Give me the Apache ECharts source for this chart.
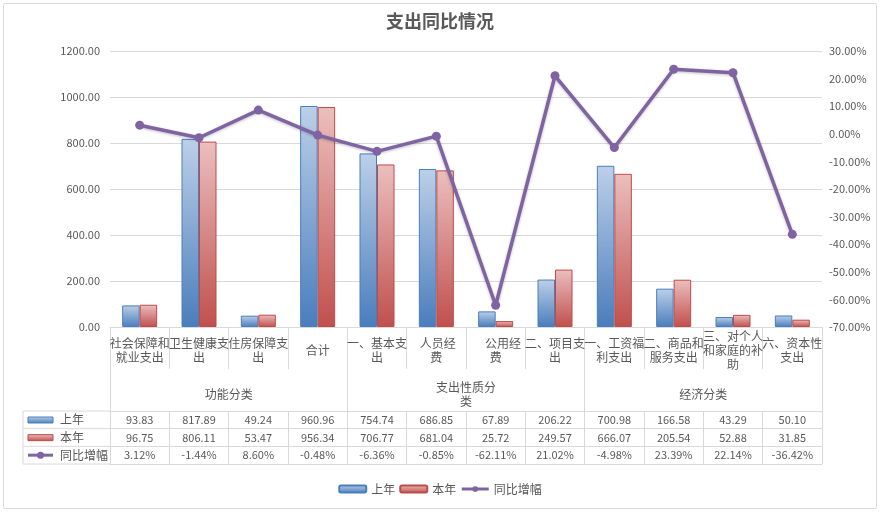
<!DOCTYPE html>
<html>
<head>
<meta charset="utf-8">
<script src="https://cdn.jsdelivr.net/npm/echarts@6/dist/echarts.min.js"></script>
<style>
  html, body { margin: 0; padding: 0; background: #fff; }
  #chart { width: 880px; height: 512px; }
</style>
</head>
<body>
<div id="chart"></div>
<script>
const categories = [
  '社会保障和\n就业支出', '卫生健康支\n出', '住房保障支\n出', '合计',
  '一、基本支\n出', ' 人员经\n费', '\u3000 公用经\n费', '二、项目支\n出',
  '一、工资福\n利支出', '二、商品和\n服务支出', '三、对个人\n和家庭的补\n助', '六、资本性\n支出'
]
const groups = ['功能分类', '支出性质分\n类', '经济分类']
const lastYear = [93.83, 817.89, 49.24, 960.96, 754.74, 686.85, 67.89, 206.22, 700.98, 166.58, 43.29, 50.10]
const thisYear = [96.75, 806.11, 53.47, 956.34, 706.77, 681.04, 25.72, 249.57, 666.07, 205.54, 52.88, 31.85]
const growth = [3.12, -1.44, 8.60, -0.48, -6.36, -0.85, -62.11, 21.02, -4.98, 23.39, 22.14, -36.42]
const seriesNames = ['上年', '本年', '同比增幅']

const FONT = 'Noto Sans CJK SC'
const TEXT = '#595959'
const BORDER = '#d9d9d9'
const PURPLE = '#7f63a2'

const blueFill = new echarts.graphic.LinearGradient(0, 0, 0, 1, [
  { offset: 0, color: '#bcd0e8' },
  { offset: 1, color: '#4a7dbd' }
])
const redFill = new echarts.graphic.LinearGradient(0, 0, 0, 1, [
  { offset: 0, color: '#ebbfbe' },
  { offset: 1, color: '#c0504d' }
])

// table geometry (below the plot)
const catH = 42
const groupH = 42
const rowH = 17.67
const tableTop = catH + groupH

const rowAxis = (data, offset, showLabel) => ({
  type: 'category',
  position: 'bottom',
  offset: offset,
  data: data,
  axisLine: { show: true, onZero: false, lineStyle: { color: BORDER } },
  axisTick: { show: showLabel, length: rowH, interval: 0, lineStyle: { color: BORDER } },
  axisLabel: {
    show: showLabel, interval: 0, margin: rowH / 2, verticalAlign: 'middle',
    color: TEXT, fontSize: 11, fontFamily: FONT
  },
  splitLine: { show: false }
})

const chart = echarts.init(document.getElementById('chart'))

const rowTop = 327 + tableTop
const rowLabels = [
  { type: 'rect', shape: { x: 28, y: rowTop + 6, width: 25, height: 6 },
    style: { fill: blueFill, stroke: '#4a7ebb', lineWidth: 1 } },
  { type: 'rect', shape: { x: 28, y: rowTop + rowH + 6, width: 25, height: 6 },
    style: { fill: redFill, stroke: '#be4b48', lineWidth: 1 } },
  { type: 'line', shape: { x1: 28, y1: rowTop + rowH * 2.5, x2: 53, y2: rowTop + rowH * 2.5 },
    style: { stroke: PURPLE, lineWidth: 3 } },
  { type: 'circle', shape: { cx: 40.5, cy: rowTop + rowH * 2.5, r: 3.5 },
    style: { fill: PURPLE } }
]
seriesNames.forEach((name, i) => {
  rowLabels.push({
    type: 'text', x: 60, y: rowTop + rowH * (i + 0.5),
    style: { text: name, fill: TEXT, font: '12px "' + FONT + '"', verticalAlign: 'middle' }
  })
})
for (let i = 0; i <= 3; i++) {
  rowLabels.push({
    type: 'line', shape: { x1: 23, y1: rowTop + rowH * i, x2: 110, y2: rowTop + rowH * i },
    style: { stroke: BORDER, lineWidth: 1 }
  })
}
rowLabels.push({
  type: 'line', shape: { x1: 23, y1: rowTop, x2: 23, y2: rowTop + rowH * 3 },
  style: { stroke: BORDER, lineWidth: 1 }
})

chart.setOption({
  backgroundColor: '#fff',
  textStyle: { fontFamily: FONT, color: TEXT },
  title: {
    text: '支出同比情况',
    left: 'center',
    top: 7,
    textStyle: { fontSize: 18, fontWeight: 'bold', color: TEXT, fontFamily: FONT }
  },
  legend: {
    data: seriesNames,
    bottom: 12,
    left: 'center',
    itemWidth: 27,
    itemHeight: 7,
    itemGap: 4,
    lineStyle: { width: 3 },
    textStyle: { fontSize: 12, color: TEXT, fontFamily: FONT }
  },
  grid: { left: 110, right: 58, top: 51, bottom: 185 },
  xAxis: [
    {
      type: 'category',
      data: categories,
      axisLine: { show: true, onZero: false, lineStyle: { color: BORDER } },
      axisTick: { show: true, length: catH, interval: 0, lineStyle: { color: BORDER } },
      axisLabel: {
        interval: 0, margin: catH / 2 + 2, verticalAlign: 'middle', lineHeight: 14,
        color: TEXT, fontSize: 12, fontFamily: FONT
      }
    },
    {
      type: 'category',
      position: 'bottom',
      offset: catH,
      data: groups,
      axisLine: { show: true, onZero: false, lineStyle: { color: 'rgba(0,0,0,0)' } },
      axisTick: { show: true, length: groupH, interval: 0, lineStyle: { color: BORDER } },
      axisLabel: {
        interval: 0, margin: groupH / 2 + 4, verticalAlign: 'middle', lineHeight: 14,
        color: TEXT, fontSize: 12, fontFamily: FONT
      }
    },
    rowAxis(lastYear.map(v => v.toFixed(2)), tableTop, true),
    rowAxis(thisYear.map(v => v.toFixed(2)), tableTop + rowH, true),
    rowAxis(growth.map(v => v.toFixed(2) + '%'), tableTop + rowH * 2, true),
    rowAxis(growth.map(() => ''), tableTop + rowH * 3, false)
  ],
  yAxis: [
    {
      type: 'value',
      min: 0,
      max: 1200,
      interval: 200,
      axisLine: { show: false },
      axisTick: { show: false },
      axisLabel: { formatter: v => v.toFixed(2), color: TEXT, fontSize: 11, margin: 10 },
      splitLine: { lineStyle: { color: BORDER } }
    },
    {
      type: 'value',
      min: -70,
      max: 30,
      interval: 10,
      axisLine: { show: false },
      axisTick: { show: false },
      axisLabel: { formatter: v => v.toFixed(2) + '%', color: TEXT, fontSize: 11, margin: 7 },
      splitLine: { show: false }
    }
  ],
  series: [
    {
      name: seriesNames[0],
      type: 'bar',
      data: lastYear,
      barWidth: 17.5,
      barGap: '0%',
      itemStyle: { color: blueFill, borderColor: '#4a7ebb', borderWidth: 1 }
    },
    {
      name: seriesNames[1],
      type: 'bar',
      data: thisYear,
      barWidth: 17.5,
      itemStyle: { color: redFill, borderColor: '#be4b48', borderWidth: 1 }
    },
    {
      name: seriesNames[2],
      type: 'line',
      yAxisIndex: 1,
      data: growth,
      symbol: 'circle',
      symbolSize: 9,
      lineStyle: { color: PURPLE, width: 3.5, shadowColor: 'rgba(0,0,0,0.25)', shadowBlur: 3, shadowOffsetY: 1 },
      itemStyle: { color: PURPLE },
      z: 5
    }
  ],
  graphic: [
    {
      type: 'rect',
      shape: { x: 3.5, y: 3.5, width: 873, height: 505, r: 2 },
      style: { fill: 'none', stroke: BORDER, lineWidth: 1 },
      silent: true
    },
    ...rowLabels
  ]
})
</script>
</body>
</html>
